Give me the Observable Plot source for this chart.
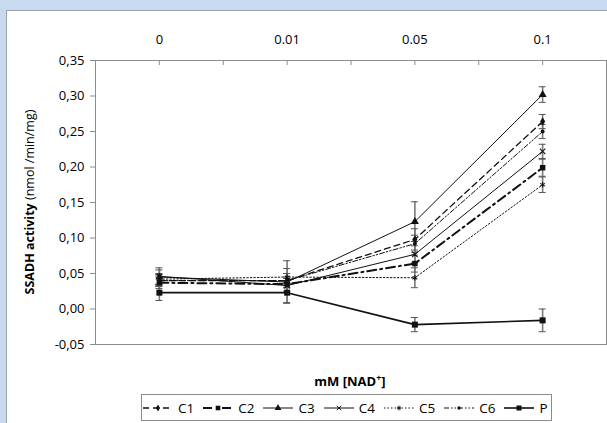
<!DOCTYPE html>
<html><head><meta charset="utf-8">
<script src="https://cdn.jsdelivr.net/npm/d3@7"></script>
<script src="https://cdn.jsdelivr.net/npm/@observablehq/plot@0.6"></script>
<style>
body{margin:0;background:#c9d9ef;width:607px;height:423px;overflow:hidden;position:relative;font-family:"Open Sans",sans-serif}
#panel{position:absolute;left:6px;top:10px;width:605px;height:420px;background:#fff;border:1px solid #9aa3ad;box-sizing:border-box}
#chart{position:absolute;left:0;top:0}
#legend{position:absolute;left:141px;top:394px;width:411px;height:27px;border:1px solid #8c8c8c;background:#fff;box-sizing:border-box;display:flex;align-items:center;padding-left:1px;font-size:13.5px;color:#000}
.item{display:flex;align-items:center;margin-right:9px}
.item svg{margin-right:5px}
</style></head>
<body>
<div id="panel"></div>
<div id="chart"></div>
<div id="legend"></div>
<script>
const categories = ["0", "0.01", "0.05", "0.1"];
const seriesNames = ["C1", "C2", "C3", "C4", "C5", "C6", "P"];
const C1 = [0.040, 0.040, 0.098, 0.264];
const C2 = [0.037, 0.035, 0.064, 0.199];
const C3 = [0.045, 0.038, 0.123, 0.302];
const C4 = [0.046, 0.033, 0.077, 0.222];
const C5 = [0.042, 0.045, 0.044, 0.175];
const C6 = [0.040, 0.040, 0.092, 0.250];
const P  = [0.023, 0.023, -0.022, -0.016];
const errC1 = [0.008, 0.010, 0.015, 0.010];
const errC2 = [0.008, 0.010, 0.012, 0.012];
const errC3 = [0.010, 0.030, 0.028, 0.011];
const errC4 = [0.012, 0.010, 0.012, 0.010];
const errC5 = [0.008, 0.012, 0.014, 0.011];
const errC6 = [0.008, 0.010, 0.012, 0.010];
const errP  = [0.011, 0.014, 0.010, 0.016];
const yTicks = [-0.05, 0, 0.05, 0.10, 0.15, 0.20, 0.25, 0.30, 0.35];

const values = {C1, C2, C3, C4, C5, C6, P};
const errs = {C1: errC1, C2: errC2, C3: errC3, C4: errC4, C5: errC5, C6: errC6, P: errP};
const styles = {
  C1: {dash: "6,4", sw: 1.3, symbol: "diamond", r: 2.6},
  C2: {dash: "9,4,2,4", sw: 2, symbol: "square", r: 3.1},
  C3: {dash: null, sw: 1, symbol: "triangle", r: 3},
  C4: {dash: null, sw: 1, symbol: "times", r: 2.6},
  C5: {dash: "1.5,2", sw: 1, symbol: "asterisk", r: 2.6},
  C6: {dash: "5,2,1.5,2,1.5,2", sw: 1, symbol: "circle", r: 2},
  P:  {dash: null, sw: 1.6, symbol: "square", r: 3.4}
};
const rows = seriesNames.flatMap(s => values[s].map((v, i) => ({s, i, v, e: errs[s][i]})));

const fmt = d => (d < -1e-9 ? "-" : "") + Math.abs(d).toFixed(2).replace(".", ",");
const tickPos = d3.range(0, categories.length * 2 + 1).map(k => k / 2 - 0.5);

const marks = [
  Plot.frame({stroke: "#8c8c8c"}),
  Plot.axisY({ticks: yTicks, tickFormat: fmt, tickSize: 5, tickPadding: 6, stroke: "#8c8c8c", label: null}),
  Plot.axisX({anchor: "top", ticks: d3.range(categories.length), tickFormat: i => categories[i], tickSize: 0, tickPadding: 17, label: null}),
  Plot.ruleX(tickPos, {x: d => d, insetBottom: 279, stroke: "#8c8c8c"}),
  Plot.ruleX(rows, {x: "i", y1: d => d.v - d.e, y2: d => d.v + d.e, stroke: "#7a7a7a", strokeWidth: 1.6}),
  Plot.ruleY(rows, {x1: "i", x2: "i", y: d => d.v + d.e, insetLeft: -3.5, insetRight: -3.5, stroke: "#555", strokeWidth: 1}),
  Plot.ruleY(rows, {x1: "i", x2: "i", y: d => d.v - d.e, insetLeft: -3.5, insetRight: -3.5, stroke: "#555", strokeWidth: 1})
];
for (const s of seriesNames) {
  const st = styles[s];
  const data = rows.filter(d => d.s === s);
  marks.push(Plot.line(data, {x: "i", y: "v", stroke: "#111", strokeWidth: st.sw, strokeDasharray: st.dash || undefined}));
}
for (const s of seriesNames) {
  const st = styles[s];
  const data = rows.filter(d => d.s === s);
  const stroked = st.symbol === "times" || st.symbol === "asterisk";
  marks.push(Plot.dot(data, {x: "i", y: "v", symbol: () => st.symbol, r: st.r,
    fill: stroked ? "none" : "#111", stroke: stroked ? "#111" : "none", strokeWidth: 1.1}));
}

const chart = Plot.plot({
  width: 607, height: 423,
  marginLeft: 95, marginRight: 1, marginTop: 60, marginBottom: 79,
  style: {fontFamily: "Open Sans, sans-serif", fontSize: "13px", color: "#000", background: "transparent", overflow: "visible"},
  x: {type: "linear", domain: [-0.5, categories.length - 0.5], axis: null},
  y: {domain: [-0.05, 0.35], axis: null},
  marks
});
document.getElementById("chart").appendChild(chart);

const svg = d3.select(chart);
const yt = svg.append("text").attr("transform", "translate(34,202) rotate(-90)")
  .attr("text-anchor", "middle").attr("font-size", 12.5).attr("fill", "#000");
yt.append("tspan").attr("font-weight", "bold").text("SSADH activity");
yt.append("tspan").text(" (nmol /min/mg)");
const xt = svg.append("text").attr("x", 350).attr("y", 386).attr("text-anchor", "middle")
  .attr("font-size", 13).attr("font-weight", "bold").attr("fill", "#000");
xt.append("tspan").text("mM [NAD");
xt.append("tspan").attr("font-size", 9).attr("dy", -5).text("+");
xt.append("tspan").attr("dy", 5).text("]");

const symMap = {diamond: d3.symbolDiamond, square: d3.symbolSquare, triangle: d3.symbolTriangle,
  times: d3.symbolTimes || d3.symbolX, asterisk: d3.symbolAsterisk, circle: d3.symbolCircle};
const legend = d3.select("#legend");
for (const s of seriesNames) {
  const st = styles[s];
  const it = legend.append("div").attr("class", "item");
  const g = it.append("svg").attr("width", 30).attr("height", 12);
  g.append("line").attr("x1", 0).attr("x2", 30).attr("y1", 6).attr("y2", 6)
    .attr("stroke", "#111").attr("stroke-width", st.sw).attr("stroke-dasharray", st.dash);
  const stroked = st.symbol === "times" || st.symbol === "asterisk";
  g.append("path").attr("transform", "translate(15,6)")
    .attr("d", d3.symbol(symMap[st.symbol], Math.PI * st.r * st.r * 0.7)())
    .attr("fill", stroked ? "none" : "#111").attr("stroke", stroked ? "#111" : "none");
  it.append("span").text(s);
}
</script>
</body></html>
